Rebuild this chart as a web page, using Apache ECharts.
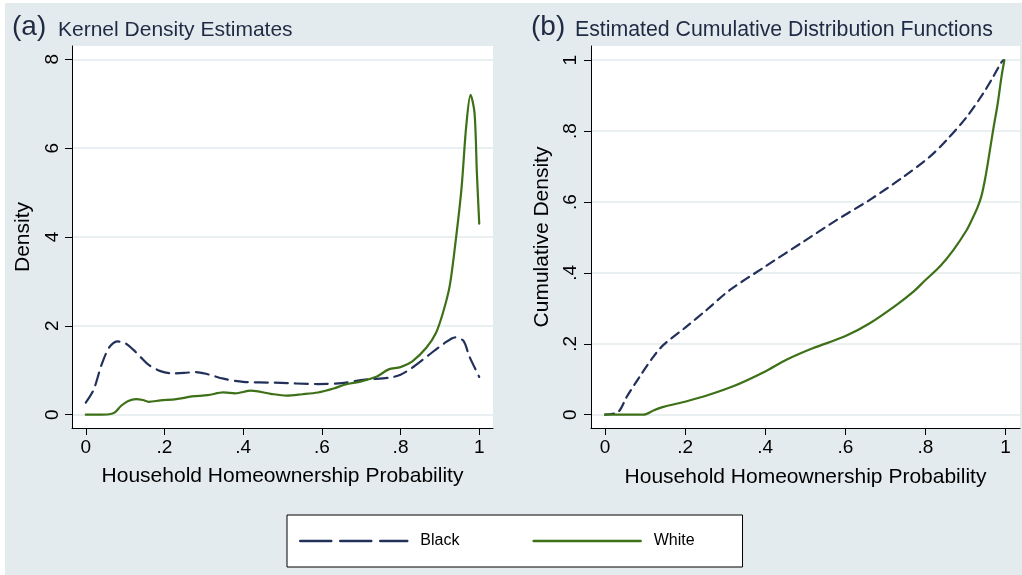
<!DOCTYPE html>
<html>
<head>
<meta charset="utf-8">
<script src="https://cdn.jsdelivr.net/npm/echarts@6/dist/echarts.min.js"></script>
<style>
  html, body { margin: 0; padding: 0; background: #ffffff; }
  #frame { position: absolute; left: 5px; top: 3px; width: 1017px; height: 572px; background: #e4ebee; }
  #chart { position: absolute; left: 0; top: 0; width: 1022px; height: 575px; }
</style>
</head>
<body>
<div id="frame"></div>
<div id="chart"></div>
<script>
// Tick values and their printed labels
const probTicks = [0, 0.2, 0.4, 0.6, 0.8, 1];
const probTickLabels = ['0', '.2', '.4', '.6', '.8', '1'];
const densityTicks = [0, 2, 4, 6, 8];
const densityTickLabels = ['0', '2', '4', '6', '8'];
const cdfTicks = [0, 0.2, 0.4, 0.6, 0.8, 1];
const cdfTickLabels = ['0', '.2', '.4', '.6', '.8', '1'];

// (a) Kernel density estimates
const kdeBlackX = [0, 0.02, 0.04, 0.06, 0.08, 0.10, 0.12, 0.14, 0.16, 0.19, 0.22, 0.25, 0.28, 0.31, 0.35, 0.40, 0.48, 0.59, 0.65, 0.71, 0.77, 0.80, 0.83, 0.87, 0.91, 0.94, 0.96, 0.975, 1.0];
const kdeBlackY = [0.27, 0.56, 1.12, 1.52, 1.65, 1.61, 1.47, 1.29, 1.12, 0.98, 0.93, 0.94, 0.96, 0.91, 0.81, 0.74, 0.72, 0.69, 0.71, 0.79, 0.83, 0.90, 1.06, 1.33, 1.60, 1.74, 1.66, 1.31, 0.85];
const kdeWhiteX = [0, 0.03, 0.06, 0.074, 0.09, 0.108, 0.128, 0.145, 0.16, 0.19, 0.23, 0.27, 0.31, 0.35, 0.38, 0.42, 0.47, 0.51, 0.55, 0.59, 0.63, 0.66, 0.70, 0.74, 0.77, 0.80, 0.83, 0.865, 0.89, 0.908, 0.925, 0.94, 0.955, 0.967, 0.978, 0.988, 0.994, 1.0];
const kdeWhiteY = [0, 0, 0.01, 0.05, 0.2, 0.31, 0.35, 0.33, 0.29, 0.32, 0.35, 0.41, 0.44, 0.5, 0.48, 0.54, 0.47, 0.43, 0.46, 0.5, 0.59, 0.68, 0.75, 0.86, 1.02, 1.07, 1.2, 1.5, 1.84, 2.3, 2.9, 3.9, 5.1, 6.5, 7.2, 6.8, 5.45, 4.3];

// (b) Estimated cumulative distribution functions
const cdfBlackX = [0, 0.033, 0.054, 0.087, 0.121, 0.146, 0.204, 0.254, 0.312, 0.4, 0.495, 0.578, 0.661, 0.745, 0.811, 0.853, 0.903, 0.944, 0.969, 0.99, 0.995];
const cdfBlackY = [0, 0.008, 0.05, 0.108, 0.164, 0.197, 0.249, 0.296, 0.352, 0.418, 0.488, 0.549, 0.606, 0.671, 0.728, 0.775, 0.84, 0.906, 0.953, 0.995, 1.0];
const cdfWhiteX = [0, 0.096, 0.121, 0.146, 0.204, 0.254, 0.32, 0.4, 0.453, 0.52, 0.599, 0.661, 0.728, 0.77, 0.8, 0.836, 0.87, 0.903, 0.915, 0.93, 0.94, 0.95, 0.96, 0.97, 0.98, 0.99, 0.997];
const cdfWhiteY = [0, 0, 0.012, 0.022, 0.038, 0.054, 0.08, 0.122, 0.155, 0.188, 0.221, 0.258, 0.31, 0.347, 0.38, 0.418, 0.465, 0.521, 0.548, 0.585, 0.618, 0.672, 0.74, 0.81, 0.875, 0.955, 1.0];

const FONT = '"Liberation Sans", Arial, Helvetica, sans-serif';
const NAVY = '#22305a';
const GREEN = '#3d7017';
const TITLE_COLOR = '#1f2a44';

function pairs(xs, ys) { return xs.map((x, i) => [x, ys[i]]); }
function labeler(ticks, labels) {
  return v => { const i = ticks.findIndex(t => Math.abs(t - v) < 1e-9); return i >= 0 ? labels[i] : ''; };
}

function xAxis(gridIndex, min, max, nameGap) {
  return {
    type: 'value', gridIndex, min, max,
    name: 'Household Homeownership Probability', nameLocation: 'middle', nameGap,
    nameTextStyle: { fontSize: 21, color: '#000', fontFamily: FONT },
    axisLine: { show: true, onZero: false, lineStyle: { color: '#000', width: 1 } },
    axisTick: { show: true, length: 7, customValues: probTicks, lineStyle: { color: '#000', width: 1 } },
    axisLabel: { customValues: probTicks, formatter: labeler(probTicks, probTickLabels), fontSize: 19, color: '#000', fontFamily: FONT, margin: 10 },
    splitLine: { show: false }
  };
}
function yAxis(gridIndex, min, max, ticks, labels, name, nameGap, margin) {
  return {
    type: 'value', gridIndex, min, max,
    name, nameLocation: 'middle', nameGap,
    nameTextStyle: { fontSize: 21, color: '#000', fontFamily: FONT },
    axisLine: { show: true, onZero: false, lineStyle: { color: '#000', width: 1 } },
    axisTick: { show: true, length: 7, customValues: ticks, lineStyle: { color: '#000', width: 1 } },
    axisLabel: { customValues: ticks, formatter: labeler(ticks, labels), rotate: 90, fontSize: 19, color: '#000', fontFamily: FONT, margin },
    splitLine: { show: true, lineStyle: { color: '#e3eaed', width: 1.5 } }
  };
}
function line(name, xi, yi, data, color, dash) {
  return {
    type: 'line', name, xAxisIndex: xi, yAxisIndex: yi, data,
    symbol: 'none', smooth: 0.3, silent: true,
    lineStyle: { color, width: 2.2, type: dash || 'solid', cap: 'round', join: 'round' },
    itemStyle: { color }
  };
}

const chart = echarts.init(document.getElementById('chart'));
chart.setOption({
  backgroundColor: 'transparent',
  animation: false,
  textStyle: { fontFamily: FONT },
  title: [
    { text: '(a)', left: 12, top: 13, padding: 0, textStyle: { fontSize: 28, fontWeight: 'normal', color: TITLE_COLOR, fontFamily: FONT } },
    { text: 'Kernel Density Estimates', left: 58, top: 20, padding: 0, textStyle: { fontSize: 21, fontWeight: 'normal', color: TITLE_COLOR, fontFamily: FONT } },
    { text: '(b)', left: 531, top: 13, padding: 0, textStyle: { fontSize: 28, fontWeight: 'normal', color: TITLE_COLOR, fontFamily: FONT } },
    { text: 'Estimated Cumulative Distribution Functions', left: 575, top: 20, padding: 0, textStyle: { fontSize: 21.3, fontWeight: 'normal', color: TITLE_COLOR, fontFamily: FONT } }
  ],
  grid: [
    { left: 72, top: 46, width: 421, height: 382, show: true, backgroundColor: '#ffffff', borderWidth: 0 },
    { left: 591, top: 46, width: 429, height: 382, show: true, backgroundColor: '#ffffff', borderWidth: 0 }
  ],
  xAxis: [
    xAxis(0, -0.035, 1.035, 38),
    xAxis(1, -0.035, 1.036, 39)
  ],
  yAxis: [
    yAxis(0, -0.3, 8.3, densityTicks, densityTickLabels, 'Density', 38, 10),
    yAxis(1, -0.0375, 1.04, cdfTicks, cdfTickLabels, 'Cumulative Density', 38, 11)
  ],
  legend: {
    left: 287, top: 515,
    backgroundColor: '#ffffff', borderColor: '#000', borderWidth: 1, borderRadius: 0,
    padding: [18, 48, 18, 12],
    itemWidth: 107, itemHeight: 14, itemGap: 73,
    itemStyle: { opacity: 0 },
    textStyle: { fontSize: 16, color: '#000', fontFamily: FONT, padding: [0, 0, 0, 8] },
    selectedMode: false,
    data: [
      { name: 'Black', itemStyle: { opacity: 0 }, lineStyle: { type: [31, 9], width: 2.5, cap: 'round' } },
      { name: 'White', itemStyle: { opacity: 0 }, lineStyle: { width: 2.5, cap: 'round' } }
    ]
  },
  series: [
    line('Black', 0, 0, pairs(kdeBlackX, kdeBlackY), NAVY, [13, 7]),
    line('White', 0, 0, pairs(kdeWhiteX, kdeWhiteY), GREEN),
    line('Black', 1, 1, pairs(cdfBlackX, cdfBlackY), NAVY, [9, 6]),
    line('White', 1, 1, pairs(cdfWhiteX, cdfWhiteY), GREEN)
  ]
});
</script>
</body>
</html>
